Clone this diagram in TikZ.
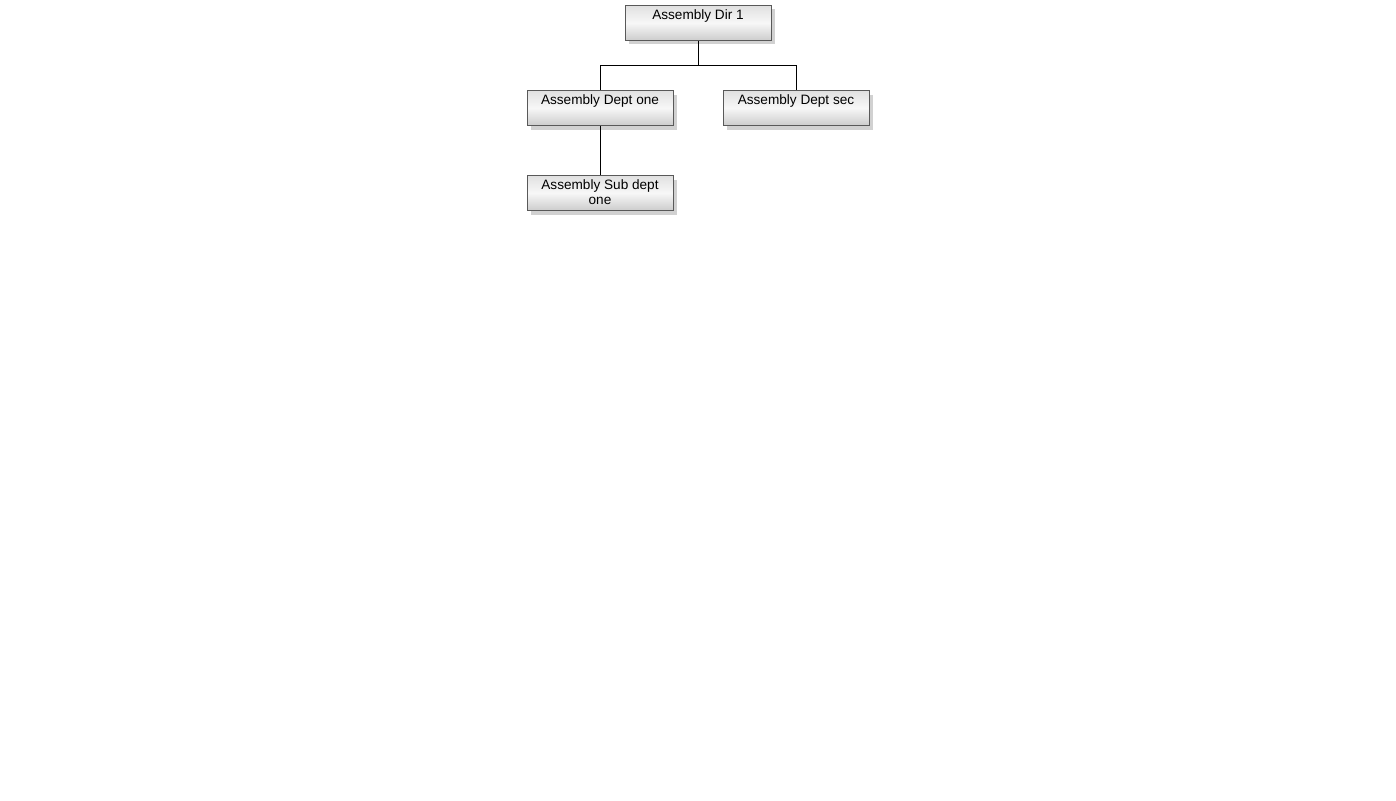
\documentclass[tikz,border=0pt]{standalone}
\usepackage{fontspec}
\setmainfont{Liberation Sans}
\usetikzlibrary{shadows}
\tikzset{
  orgbox/.style={draw=black!65, line width=0.8pt, inner sep=0pt,
    minimum width=146pt, minimum height=35pt,
    top color=black!12, bottom color=black!20, middle color=black!3,
    drop shadow={fill=black!18, opacity=1, shadow xshift=4pt, shadow yshift=-4pt}},
  link/.style={draw=black, line width=0.8pt}
}
\newcommand{\boxtext}[1]{\parbox[c][35pt][t]{144pt}{\centering\fontsize{13.6pt}{15pt}\selectfont\vspace*{4pt}#1}}
\begin{document}
\begin{tikzpicture}[x=1pt,y=-1pt]
\useasboundingbox (0,0) rectangle (1396,800);
\node[orgbox] (dir) at (698,23) {\boxtext{Assembly Dir 1}};
\node[orgbox] (dept1) at (600,108) {\boxtext{Assembly Dept one}};
\node[orgbox] (dept2) at (796,108) {\boxtext{Assembly Dept sec}};
\node[orgbox] (sub1) at (600,193) {\boxtext{Assembly Sub dept\\one}};
\coordinate (j) at (698,65);
\draw[link] (dir.south) -- (j) -| (dept1.north);
\draw[link] (j) -| (dept2.north);
\draw[link] (dept1.south) -- (sub1.north);
\end{tikzpicture}
\end{document}
